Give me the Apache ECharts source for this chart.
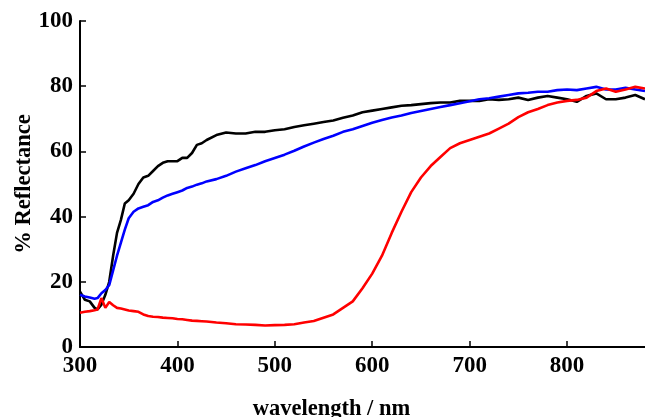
<!DOCTYPE html>
<html><head><meta charset="utf-8">
<script src="https://cdn.jsdelivr.net/npm/echarts@6/dist/echarts.min.js"></script>
<style>html,body{margin:0;padding:0;background:#fff}#c{width:645px;height:417px}</style>
</head><body><div id="c"></div>
<script>
const wavelengths = [300,305,310,315,318,322,326,330,334,338,342,346,350,355,360,365,370,375,380,385,390,395,400,405,410,415,420,425,430,440,450,460,470,480,490,500,510,520,530,540,550,560,570,580,590,600,610,620,630,640,650,660,670,680,690,700,710,720,730,740,750,760,770,780,790,800,810,820,830,840,850,860,870,880];
const blackSeries = [17,14.5,14,12,11.5,13,16,20,28,35,39,44,45,47,50,52,52.5,54,55.5,56.5,57,57,57,58,58,59.5,62,62.5,63.5,65,65.8,65.5,65.5,66,66,66.5,66.8,67.5,68,68.5,69,69.5,70.3,71,72,72.5,73,73.5,74,74.2,74.5,74.8,75,75,75.5,75.5,75.5,76,75.8,76,76.5,75.8,76.5,77,76.5,76,75.2,77,77.8,76,76,76.5,77.3,76];
const blueSeries = [16,15.5,15.2,14.8,15,16.5,17.5,19,23.5,28,32,36,39.5,41.5,42.5,43,43.5,44.5,45,45.8,46.5,47,47.5,48,48.8,49.2,49.8,50.2,50.8,51.5,52.5,53.8,54.8,55.8,57,58,59,60.2,61.5,62.7,63.8,64.8,66,66.8,67.8,68.8,69.6,70.4,71,71.8,72.4,73,73.6,74.2,74.8,75.4,76,76.3,76.8,77.3,77.8,78,78.3,78.3,78.8,79,78.8,79.3,79.8,79,79,79.5,79,78.5];
const redSeries = [10.5,10.8,11,11.3,11.5,15,12,13.8,12.8,12,11.8,11.5,11.2,11,10.8,10,9.5,9.3,9.2,9,8.9,8.8,8.6,8.5,8.3,8.1,8,7.9,7.8,7.5,7.3,7,6.9,6.8,6.6,6.7,6.8,7,7.5,8,9,10,12,14,18,22.5,28,35,41.5,47.5,52,55.5,58.3,61,62.5,63.5,64.5,65.5,67,68.5,70.5,72,73,74.2,75,75.5,75.8,76.5,78.5,79.3,78.3,79,79.8,79.3];
const xTicks = {min:300, max:880, interval:100};
const yTicks = {min:0, max:100, interval:20};

const font = 'Liberation Serif';
function pairs(v){ return wavelengths.map((w,i)=>[w,v[i]]); }
function line(name, data, color){
  return {name, type:'line', data:pairs(data), showSymbol:false, symbol:'none',
    lineStyle:{color, width:2.6}, itemStyle:{color}, animation:false};
}
const chart = echarts.init(document.getElementById('c'), null, {renderer:'canvas'});
chart.setOption({
  animation:false,
  grid:{left:80, right:0, top:21, bottom:70, containLabel:false, outerBoundsMode:'none'},
  xAxis:{type:'value', min:xTicks.min, max:xTicks.max, interval:xTicks.interval,
    name:'wavelength / nm', nameLocation:'middle', nameGap:51,
    nameTextStyle:{fontFamily:font, fontWeight:'bold', fontSize:22.5, color:'#000', padding:[0,62,0,0]},
    axisLine:{lineStyle:{color:'#000', width:2}},
    axisTick:{inside:true, length:6, lineStyle:{color:'#000', width:1.5}},
    axisLabel:{fontFamily:font, fontWeight:'bold', fontSize:23, color:'#000', margin:8, showMaxLabel:false},
    splitLine:{show:false}},
  yAxis:{type:'value', min:yTicks.min, max:yTicks.max, interval:yTicks.interval,
    name:'% Reflectance', nameLocation:'middle', nameGap:44, nameRotate:90, nameMoveOverlap:false,
    nameTextStyle:{fontFamily:font, fontWeight:'bold', fontSize:22.5, color:'#000'},
    axisLine:{show:true, lineStyle:{color:'#000', width:2}},
    axisTick:{show:true, inside:true, length:6, lineStyle:{color:'#000', width:1.5}},
    axisLabel:{fontFamily:font, fontWeight:'bold', fontSize:23, color:'#000', margin:7},
    splitLine:{show:false}},
  series:[
    line('black', blackSeries, '#000000'),
    line('blue', blueSeries, '#0000ff'),
    line('red', redSeries, '#ff0000')
  ]
});
</script></body></html>
